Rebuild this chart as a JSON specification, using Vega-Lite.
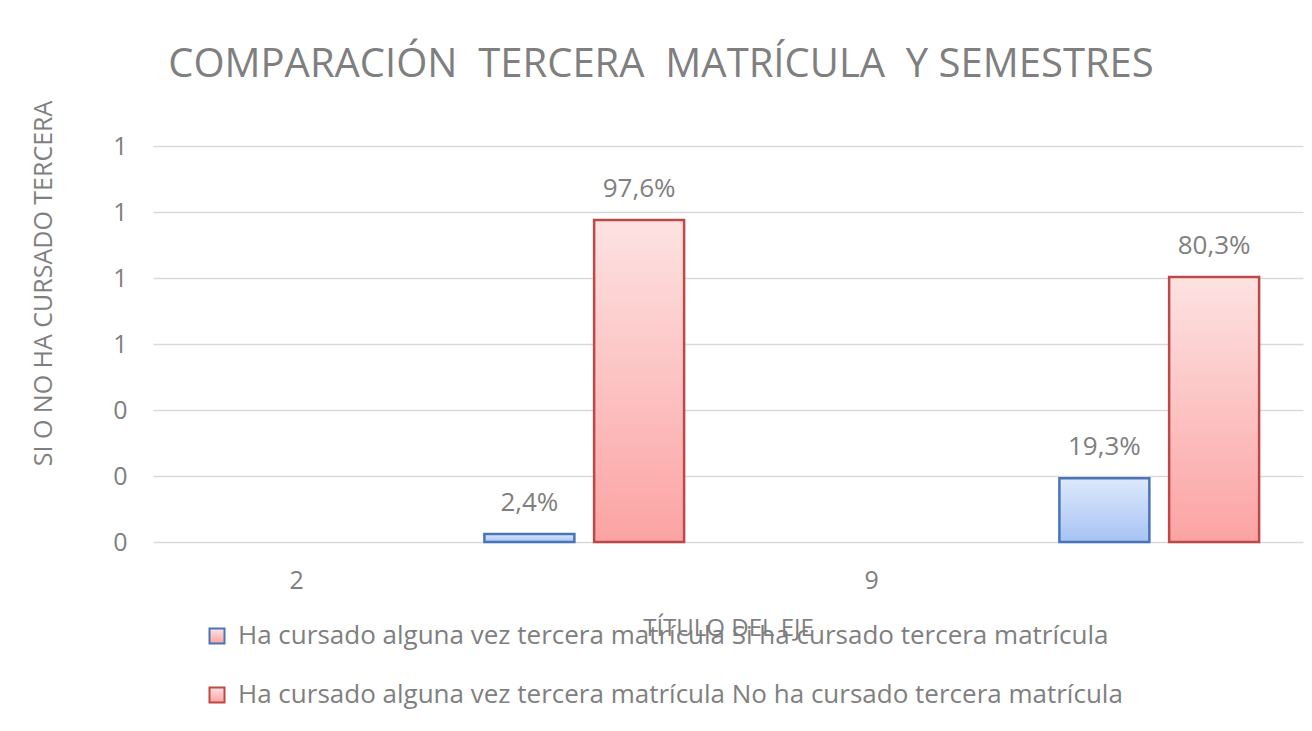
{
  "$schema": "https://vega.github.io/schema/vega-lite/v6.json",
  "width": 1150,
  "height": 396,
  "autosize": {"type": "none"},
  "padding": {"left": 153, "top": 146, "right": 9, "bottom": 189},
  "background": "white",
  "config": {
    "locale": {"number": {"decimal": ",", "thousands": ".", "grouping": [3], "currency": ["", " €"]}},
    "font": "Open Sans",
    "view": {"stroke": null},
    "axis": {
      "labelFont": "Open Sans",
      "labelColor": "#7f7f7f",
      "labelFontSize": 25,
      "titleFont": "Open Sans",
      "titleColor": "#7f7f7f",
      "titleFontSize": 24,
      "titleFontWeight": "normal"
    },
    "legend": {"labelFont": "Open Sans"}
  },
  "title": {
    "text": "COMPARACIÓN\u00a0 TERCERA\u00a0 MATRÍCULA\u00a0 Y SEMESTRES",
    "font": "Open Sans",
    "fontSize": 40,
    "fontWeight": "normal",
    "color": "#7f7f7f",
    "anchor": "middle",
    "baseline": "alphabetic",
    "dx": -67,
    "dy": 21,
    "offset": 4
  },
  "data": {
    "values": [
      {"semestre": "2", "serie": "Ha cursado alguna vez tercera matrícula Si ha cursado tercera matrícula", "valor": 0.024},
      {"semestre": "2", "serie": "Ha cursado alguna vez tercera matrícula No ha cursado tercera matrícula", "valor": 0.976},
      {"semestre": "9", "serie": "Ha cursado alguna vez tercera matrícula Si ha cursado tercera matrícula", "valor": 0.193},
      {"semestre": "9", "serie": "Ha cursado alguna vez tercera matrícula No ha cursado tercera matrícula", "valor": 0.803}
    ]
  },
  "encoding": {
    "x": {
      "field": "semestre",
      "type": "nominal",
      "scale": {"domain": ["2 (eje)", "2", "9 (eje)", "9"], "paddingInner": 0, "paddingOuter": 0},
      "axis": {
        "title": "TÍTULO DEL EJE",
        "labelExpr": "indexof(datum.value, ' (eje)') > 0 ? replace(datum.value, ' (eje)', '') : ''",
        "labelAngle": 0,
        "domain": false,
        "ticks": false,
        "grid": false,
        "labelPadding": 26,
        "titlePadding": 23
      }
    },
    "xOffset": {
      "field": "serie",
      "type": "nominal",
      "scale": {
        "domain": [
          "Ha cursado alguna vez tercera matrícula Si ha cursado tercera matrícula",
          "Ha cursado alguna vez tercera matrícula No ha cursado tercera matrícula"
        ],
        "paddingInner": 0.18,
        "paddingOuter": 0.4
      }
    },
    "y": {
      "field": "valor",
      "type": "quantitative",
      "scale": {"domain": [0, 1.2], "nice": false},
      "axis": {
        "title": "SI O NO HA CURSADO TERCERA",
        "values": [0, 0.2, 0.4, 0.6, 0.8, 1.0, 1.2],
        "format": ".0f",
        "grid": true,
        "gridColor": "#d9d9d9",
        "gridWidth": 1.5,
        "domain": false,
        "ticks": false,
        "labelPadding": 26,
        "titleFontSize": 25,
        "titleX": -110,
        "titleY": 137,
        "titleAngle": -90,
        "titleBaseline": "middle",
        "titleAlign": "center"
      }
    }
  },
  "layer": [
    {
      "mark": {"type": "bar", "strokeWidth": 2.5},
      "encoding": {
        "fill": {
          "condition": {
            "test": "indexof(datum.serie, 'Si ha cursado') >= 0",
            "value": {"gradient": "linear", "x1": 0, "y1": 0, "x2": 0, "y2": 1, "stops": [{"offset": 0, "color": "#dde9fc"}, {"offset": 1, "color": "#a7c3f4"}]}
          },
          "value": {"gradient": "linear", "x1": 0, "y1": 0, "x2": 0, "y2": 1, "stops": [{"offset": 0, "color": "#fde2e2"}, {"offset": 1, "color": "#fca3a3"}]}
        },
        "stroke": {
          "field": "serie",
          "type": "nominal",
          "scale": {
            "domain": [
              "Ha cursado alguna vez tercera matrícula Si ha cursado tercera matrícula",
              "Ha cursado alguna vez tercera matrícula No ha cursado tercera matrícula"
            ],
            "range": ["#4a74b8", "#bd4846"]
          },
          "legend": {
            "orient": "none",
            "legendX": 51,
            "legendY": 477,
            "direction": "vertical",
            "title": null,
            "symbolType": "square",
            "symbolSize": 225,
            "symbolStrokeWidth": 2,
            "labelFontSize": 26,
            "labelColor": "#7f7f7f",
            "labelLimit": 1200,
            "labelOffset": 8,
            "rowPadding": 33,
            "encode": {
              "symbols": {
                "update": {
                  "fill": {"signal": "indexof(datum.value, 'Si ha cursado') >= 0 ? '#c8dbf8' : '#f9c4c4'"},
                  "opacity": {"value": 1}
                }
              }
            }
          }
        }
      }
    },
    {
      "mark": {"type": "text", "baseline": "alphabetic", "dy": -23, "fontSize": 26, "color": "#7f7f7f", "font": "Open Sans"},
      "encoding": {
        "text": {"field": "valor", "type": "quantitative", "format": ".1%"}
      }
    }
  ]
}
